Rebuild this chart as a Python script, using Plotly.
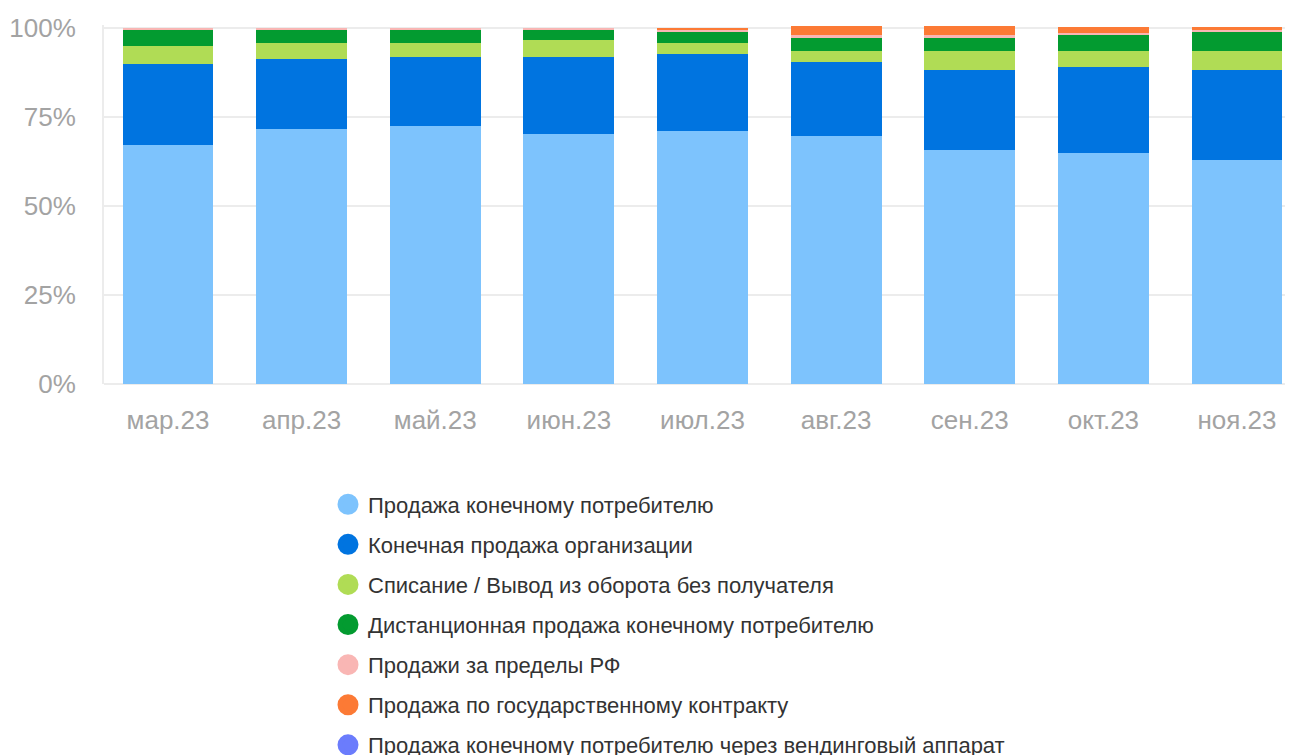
import plotly.graph_objects as go

categories = ["мар.23", "апр.23", "май.23", "июн.23", "июл.23", "авг.23", "сен.23", "окт.23", "ноя.23"]

series_names = [
    "Продажа конечному потребителю",
    "Конечная продажа организации",
    "Списание / Вывод из оборота без получателя",
    "Дистанционная продажа конечному потребителю",
    "Продажи за пределы РФ",
    "Продажа по государственному контракту",
    "Продажа конечному потребителю через вендинговый аппарат",
]

consumer = [67.1, 71.6, 72.5, 70.2, 71.1, 69.7, 65.7, 64.9, 62.9]
organization = [22.8, 19.7, 19.4, 21.7, 21.6, 20.7, 22.5, 24.1, 25.3]
writeoff = [5.0, 4.5, 3.9, 4.7, 3.1, 3.1, 5.3, 4.5, 5.3]
remote = [4.5, 3.6, 3.6, 2.8, 3.1, 3.7, 3.7, 4.5, 5.4]
export = [0.6, 0.6, 0.6, 0.6, 0.5, 0.8, 0.8, 0.6, 0.5]
gov_contract = [0.0, 0.0, 0.0, 0.0, 0.6, 2.6, 2.6, 1.7, 0.9]
vending = [0.0, 0.0, 0.0, 0.0, 0.0, 0.0, 0.0, 0.0, 0.0]

y_tick_values = [0, 25, 50, 75, 100]
y_tick_labels = ["0%", "25%", "50%", "75%", "100%"]

colors = ["#7DC3FD", "#0074E0", "#B0DC55", "#039B30", "#F9B6B4", "#FC7A35", "#6B7CFC"]

series_values = [consumer, organization, writeoff, remote, export, gov_contract, vending]

FONT = "Liberation Sans, Arial, Helvetica, sans-serif"

fig = go.Figure()
for name, vals, col in zip(series_names, series_values, colors):
    fig.add_trace(go.Bar(
        x=categories, y=vals, name=name, marker=dict(color=col, line=dict(width=0)),
        showlegend=False,
    ))

for i, (name, col) in enumerate(zip(series_names, colors)):
    fig.add_trace(go.Scatter(
        x=[None], y=[None], mode="markers", name=name,
        marker=dict(color=col, size=16, symbol="circle", line=dict(color=col, width=5)),
        legendgroup="g%d" % i, showlegend=True,
    ))

fig.update_layout(
    width=1285, height=747, autosize=False,
    barmode="stack", bargap=0.32,
    paper_bgcolor="white", plot_bgcolor="white",
    margin=dict(l=96, r=0, t=17, b=371, autoexpand=False),
    font=dict(family=FONT),
    xaxis=dict(
        type="category", range=[-0.479, 8.419],
        showgrid=False, showline=False, zeroline=False, automargin=False,
        tickfont=dict(size=26, color="#a3a3a3", family=FONT),
        ticklabelstandoff=18,
    ),
    yaxis=dict(
        range=[0, 100.8], tickmode="array", tickvals=y_tick_values, ticktext=y_tick_labels,
        showgrid=True, gridcolor="#ececec", gridwidth=2,
        showline=True, linecolor="#ececec", linewidth=2,
        zeroline=True, zerolinecolor="#ececec", zerolinewidth=2,
        automargin=False,
        tickfont=dict(size=26, color="#a3a3a3", family=FONT),
        ticklabelstandoff=21,
    ),
    legend=dict(
        x=(320 - 96) / 1189, xanchor="left",
        y=-0.277, yanchor="top",
        orientation="v", traceorder="grouped", tracegroupgap=8.5,
        font=dict(size=22, color="#333333", family=FONT),
        bgcolor="rgba(0,0,0,0)",
    ),
)

fig.write_html("out.html")
